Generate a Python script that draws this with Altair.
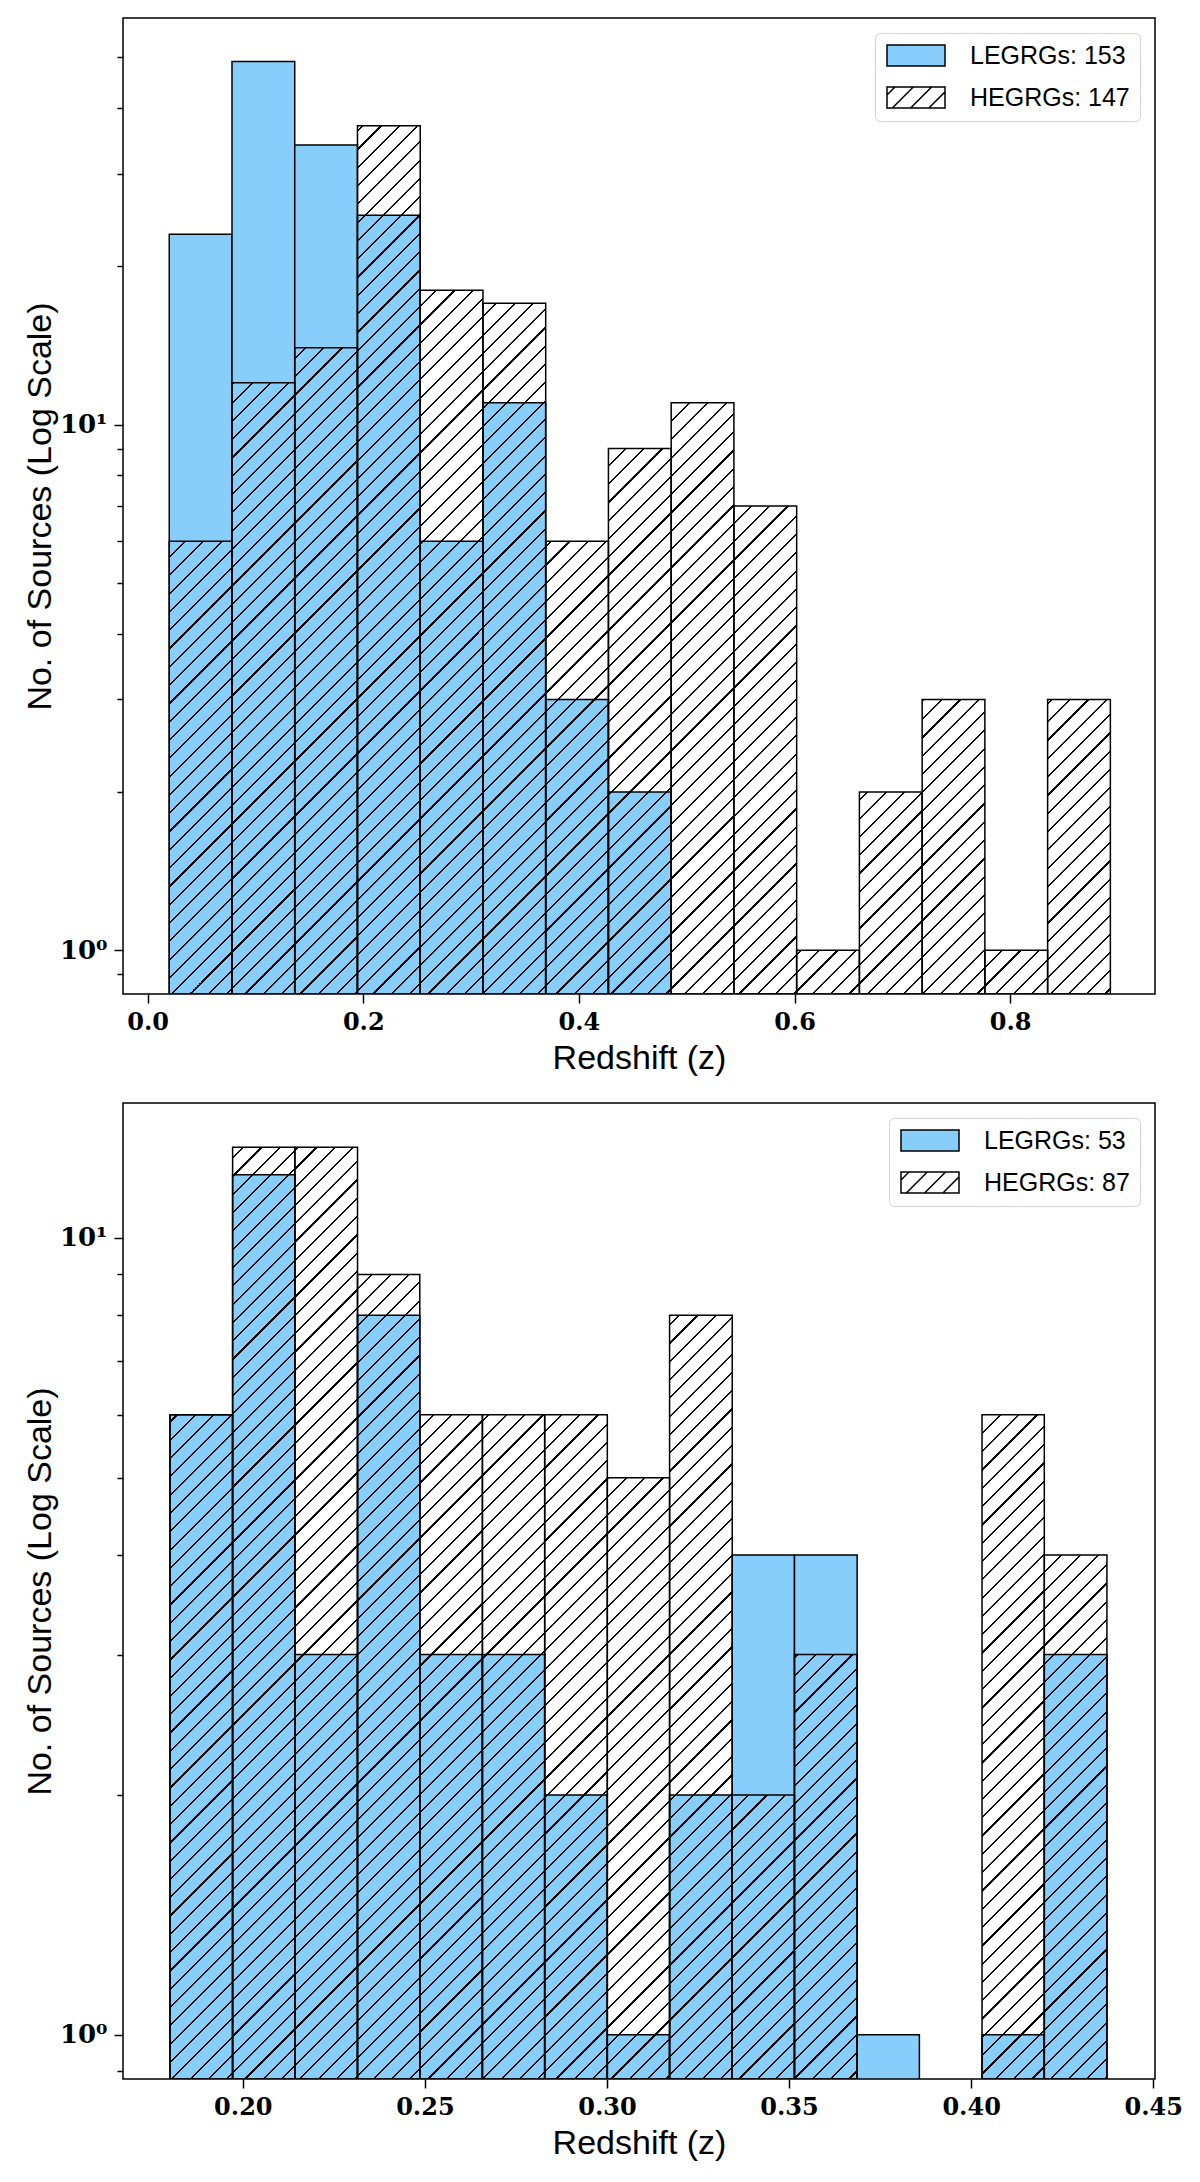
import math
import pandas as pd
import altair as alt

# ---------------- data (15 equal bins each) ----------------
groups = ["LEGRGs", "HEGRGs"]

# full sample
edges_full = [0.0200, 0.0782, 0.1364, 0.1946, 0.2528, 0.3110, 0.3692, 0.4274,
              0.4856, 0.5438, 0.6020, 0.6602, 0.7184, 0.7766, 0.8348, 0.8930]
legrg_full = [23, 49, 34, 25, 6, 11, 3, 2, 0, 0, 0, 0, 0, 0, 0]
hegrg_full = [6, 12, 14, 37, 18, 17, 6, 9, 11, 7, 1, 2, 3, 1, 3]

# redshift-matched sample
edges_sub = [0.1800, 0.1972, 0.2143, 0.2315, 0.2486, 0.2658, 0.2829, 0.3001,
             0.3172, 0.3344, 0.3515, 0.3687, 0.3858, 0.4030, 0.4201, 0.4373]
legrg_sub = [6, 12, 3, 8, 3, 3, 2, 1, 2, 4, 4, 1, 0, 1, 3]
hegrg_sub = [6, 13, 13, 9, 6, 6, 6, 5, 8, 2, 3, 0, 0, 6, 4]

xticks_full = [0.0, 0.2, 0.4, 0.6, 0.8]
xticks_sub = [0.20, 0.25, 0.30, 0.35, 0.40, 0.45]
yticks_full = [0.9, 1, 2, 3, 4, 5, 6, 7, 8, 9, 10, 20, 30, 40, 50]
yticks_sub = [0.9, 1, 2, 3, 4, 5, 6, 7, 8, 9, 10]

xdom_full, ydom_full = [-0.0229, 0.9344], [0.826, 59.3]
xdom_sub, ydom_sub = [0.1671, 0.4505], [0.880, 14.77]

# ---------------- style ----------------
W, H = 1032, 976          # plot area of each panel
BLUE = "#87CEFA"
INK = "black"
CLEAR = "rgba(0,0,0,0)"
STEP = 18.3               # hatch spacing (along x+y, px)
HALF = 1.1                # half hatch-line thickness (along x+y, px)
SW_W, SW_H = 58, 21       # legend swatch size, px


def hatch_fill(left, top, w, h):
    # "//" hatch as a striped linear gradient in the bar's bounding box
    L = w + h
    k = L / (w * w + h * h)
    stops = [{"offset": 0, "color": CLEAR}]
    m0 = math.ceil((left + top - HALF) / STEP)
    m1 = math.floor((left + top + L + HALF) / STEP)
    for m in range(m0, m1 + 1):
        c = STEP * m - (left + top)
        a = round(max(0.0, (c - HALF) / L), 5)
        b = round(min(1.0, (c + HALF) / L), 5)
        stops += [{"offset": a, "color": CLEAR}, {"offset": a, "color": INK},
                  {"offset": b, "color": INK}, {"offset": b, "color": CLEAR}]
    stops.append({"offset": 1, "color": CLEAR})
    return {"gradient": "linear", "x1": 0, "y1": 0,
            "x2": round(k * w, 6), "y2": round(k * h, 6), "stops": stops}


def swatch_paths(w=SW_W, h=SW_H, phase=8.0):
    # legend symbols: plain box, and box with hatch lines.
    # unit = h/2 px; the box starts at the symbol centre's left edge and runs right
    r = h / 2
    u = lambda X: X / r - 1
    v = lambda Y: Y / r - 1
    box = f"M-1,-1H{u(w):.4f}V1H-1Z"
    lines = ""
    c = phase
    while c < w + h:
        xa, xb = max(0, c - h), min(w, c)
        lines += f"M{u(xa):.4f},{v(c - xa):.4f}L{u(xb):.4f},{v(c - xb):.4f}"
        c += STEP
    return box, box + lines


BOX, HATCHBOX = swatch_paths()
SYM = SW_H * SW_H


def panel(edges, legrg, hegrg, xdom, ydom, xticks, xfmt, yticks):
    lo, hi = edges[:-1], edges[1:]
    blue = pd.DataFrame({"lo": lo, "hi": hi, "n": legrg})
    hat = pd.DataFrame({"lo": lo, "hi": hi, "n": hegrg})
    blue["base"] = ydom[0]
    hat["base"] = ydom[0]
    blue = blue[blue["n"] > 0]
    labels = [f"{groups[0]}: {sum(legrg)}", f"{groups[1]}: {sum(hegrg)}"]

    xaxis = alt.Axis(values=xticks, format=xfmt, title="Redshift (z)")
    yaxis = alt.Axis(values=yticks, title="No. of Sources (Log Scale)", labelFontSize=26,
                     labelExpr="datum.value == 1 ? '10⁰' : (datum.value == 10 ? '10¹' : '')",
                     tickSize={"condition": {"test": "datum.value == 1 || datum.value == 10",
                                             "value": 9}, "value": 6})
    x = alt.X("lo:Q", scale=alt.Scale(domain=xdom, nice=False, zero=False), axis=xaxis)
    y = alt.Y("n:Q", scale=alt.Scale(type="log", domain=ydom, nice=False), axis=yaxis)

    layers = [alt.Chart(blue).mark_bar(fill=BLUE, stroke=INK, strokeWidth=1.5, clip=True)
              .encode(x=x, x2="hi", y=y, y2="base")]

    # pixel geometry, only used to lay the hatch out at 45 degrees
    lmin, lmax = math.log10(ydom[0]), math.log10(ydom[1])
    for i in range(len(hat)):
        n = hat["n"].iloc[i]
        if n <= 0:
            continue
        left = (lo[i] - xdom[0]) / (xdom[1] - xdom[0]) * W
        right = (hi[i] - xdom[0]) / (xdom[1] - xdom[0]) * W
        top = H * (1 - (math.log10(n) - lmin) / (lmax - lmin))
        fill = hatch_fill(left, top, right - left, H - top)
        layers.append(alt.Chart(hat.iloc[[i]])
                      .mark_bar(fill=fill, stroke=INK, strokeWidth=1.5, clip=True)
                      .encode(x=x, x2="hi", y=y, y2="base"))

    leg = alt.Legend(title=None, orient="top-right", offset=15, padding=10,
                     fillColor="white", strokeColor="#d4d4d4", cornerRadius=5,
                     labelFont="Liberation Sans", labelFontSize=25, labelColor=INK,
                     labelOffset=60, labelLimit=400, symbolSize=SYM,
                     symbolStrokeColor=INK, symbolStrokeWidth=1.5, rowPadding=15)
    key = pd.DataFrame({"grp": labels})
    layers.append(alt.Chart(key).transform_filter("false")
                  .mark_point(filled=True, size=SYM, stroke=INK, strokeWidth=1.5, opacity=1)
                  .encode(color=alt.Color("grp:N", scale=alt.Scale(domain=labels, range=[BLUE, "white"]),
                                          legend=leg),
                          shape=alt.Shape("grp:N", scale=alt.Scale(domain=labels, range=[BOX, HATCHBOX]),
                                          legend=leg)))
    return alt.layer(*layers).properties(width=W, height=H)


top = panel(edges_full, legrg_full, hegrg_full, xdom_full, ydom_full, xticks_full, ".1f", yticks_full)
bottom = panel(edges_sub, legrg_sub, hegrg_sub, xdom_sub, ydom_sub, xticks_sub, ".2f", yticks_sub)

chart = alt.vconcat(top, bottom, spacing=26).resolve_scale(
    x="independent", y="independent", color="independent", shape="independent"
).resolve_legend(color="independent", shape="independent").properties(
    padding={"left": 14, "top": 9, "right": 5, "bottom": 5}
).configure_view(
    stroke=INK, strokeWidth=1.5
).configure_axis(
    domain=False, grid=False, tickColor=INK, tickWidth=1.5,
    labelColor=INK, labelFont="DejaVu Serif", labelFontWeight="bold", labelFontSize=24,
    labelFlush=False, labelOverlap=False,
    titleFont="Liberation Sans", titleFontSize=34, titleFontWeight="normal", titleColor=INK
).configure_axisX(
    tickSize=9, labelPadding=7, titlePadding=7
).configure_axisY(
    labelPadding=7, titlePadding=5, minExtent=61, maxExtent=61
)

chart.save("out.html", embed_options={"renderer": "svg", "actions": False})
